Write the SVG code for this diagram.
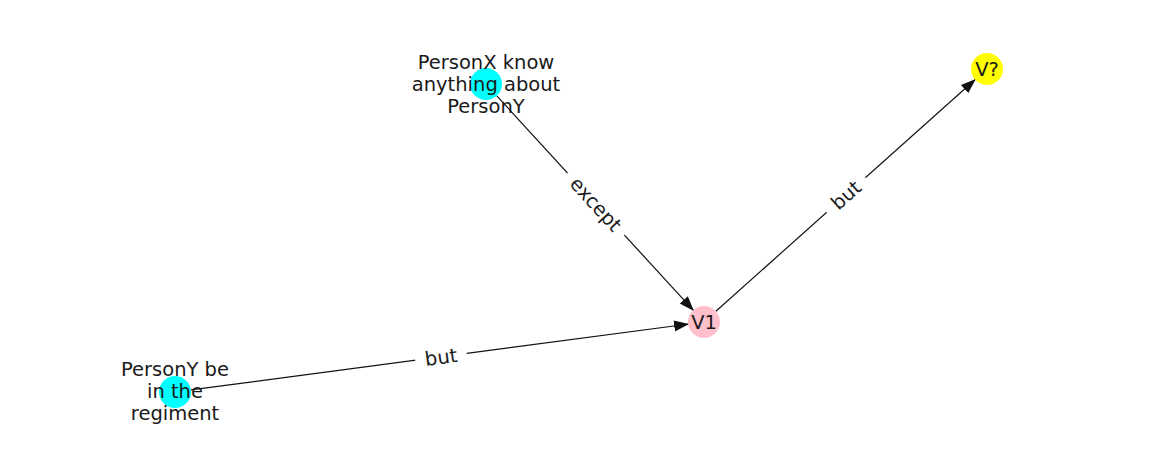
<svg xmlns="http://www.w3.org/2000/svg" width="1162" height="462" viewBox="0 0 1162 462">
<style>
  .lbl { font-family: "DejaVu Sans", sans-serif; font-size: 19.5px; fill: #1a1a1a; text-anchor: middle; }
  .edge { stroke: #111; stroke-width: 1.2; fill: none; marker-end: url(#arrow); }
  .ebox { fill: #fff; stroke: none; }
</style>
<defs>
  <marker id="arrow" markerUnits="userSpaceOnUse" markerWidth="16" markerHeight="12" refX="15" refY="5.5" orient="auto">
    <path d="M0,0 L15,5.5 L0,11 z" fill="#111"/>
  </marker>
</defs>
<rect width="1162" height="462" fill="#fff"/>
<g id="connectors">
  <line class="edge" x1="496.8" y1="95.8" x2="693.9" y2="310.9"/>
  <line class="edge" x1="715.9" y1="311.3" x2="975.8" y2="79.0"/>
  <line class="edge" x1="190.9" y1="389.9" x2="689.1" y2="324.0"/>
  <g transform="translate(596,204) rotate(47.5)">
    <rect class="ebox" x="-42" y="-14" width="84" height="28"/>
    <text class="lbl" x="0" y="7">except</text>
  </g>
  <g transform="translate(846,195) rotate(-41.8)">
    <rect class="ebox" x="-26" y="-14" width="52" height="28"/>
    <text class="lbl" x="0" y="7">but</text>
  </g>
  <g transform="translate(441,357) rotate(-7.5)">
    <rect class="ebox" x="-26" y="-14" width="52" height="28"/>
    <text class="lbl" x="0" y="7">but</text>
  </g>
</g>
<g id="node-personx">
  <circle cx="486" cy="84" r="16" fill="#00ffff"/>
  <text class="lbl" x="486" y="68.5">PersonX know<tspan x="486" dy="22">anything about</tspan><tspan x="486" dy="22">PersonY</tspan></text>
</g>
<g id="node-v1">
  <circle cx="704" cy="322" r="16" fill="#ffc0cb"/>
  <text class="lbl" x="704" y="329">V1</text>
</g>
<g id="node-vq">
  <circle cx="987" cy="69" r="16" fill="#ffff00"/>
  <text class="lbl" x="987" y="76">V?</text>
</g>
<g id="node-persony">
  <circle cx="175" cy="392" r="16" fill="#00ffff"/>
  <text class="lbl" x="175" y="376">PersonY be<tspan x="175" dy="22">in the</tspan><tspan x="175" dy="22">regiment</tspan></text>
</g>
</svg>
